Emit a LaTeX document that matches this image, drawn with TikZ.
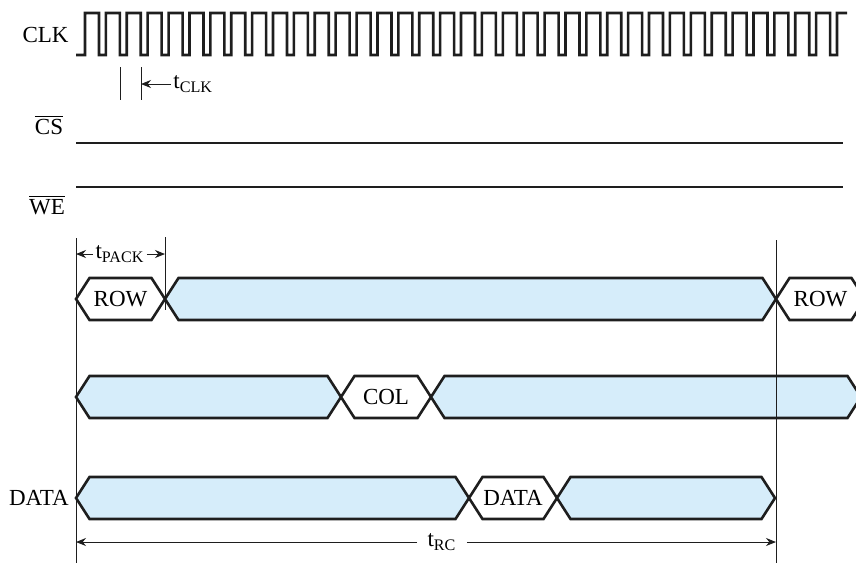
\documentclass[tikz,border=0pt]{standalone}
\usepackage{fontspec}
\setmainfont{Liberation Serif}
\definecolor{busBlue}{RGB}{214,237,250}
\definecolor{sigDark}{RGB}{30,30,30}
\usetikzlibrary{arrows.meta,positioning,calc}

\begin{document}
\begin{tikzpicture}[x=0.5pt, y=-0.5pt,
    sig/.style={draw=sigDark, line width=1.3pt, line join=miter},
    bus/.style={sig, fill=busBlue},
    idle/.style={sig, fill=white},
    marker/.style={draw=sigDark, line width=0.5pt},
    dim/.style={marker, -{Stealth[length=5pt, width=4pt]}},
    lbl/.style={font=\fontsize{11.5}{13}\selectfont, inner sep=1pt}
  ]
  \useasboundingbox (0,0) rectangle (856,563);

  % signal names
  \node[lbl, anchor=east] (clk) at (71,35) {CLK};
  \node[lbl] (cs) at (49,125) {$\overline{\mbox{CS}}$};
  \node[lbl] (we) at (47,205) {$\overline{\mbox{WE}}$};
  \node[lbl, anchor=east] (data) at (71,498) {DATA};

  % clock
  \draw[sig] (76,55) -- (85,55)
    \foreach \k in {0,...,35} {
      -- ({85+\k*20.89},13) -- ({99+\k*20.89},13)
      -- ({99+\k*20.89},55) -- ({85+(\k+1)*20.89},55)
    }
    -- (837,13) -- (847,13);

  % chip select and write enable
  \draw[sig] (76,143) -- (843,143);
  \draw[sig] (76,187) -- (843,187);

  % buses
  \foreach \xa/\xb/\yc/\kind/\txt [count=\i] in {
      76/165/299/idle/ROW, 165/776/299/bus/, 776/865/299/idle/ROW,
      76/341/397/bus/, 341/431/397/idle/COL, 431/861/397/bus/,
      76/469/498/bus/, 469/557/498/idle/DATA, 557/775/498/bus/} {
    \draw[\kind] (\xa,\yc) -- ({\xa+13.5},{\yc-21}) -- ({\xb-13.5},{\yc-21})
      -- (\xb,\yc) -- ({\xb-13.5},{\yc+21}) -- ({\xa+13.5},{\yc+21}) -- cycle;
    \node[lbl] (seg\i) at ({(\xa+\xb)/2},\yc) {\txt};
  }

  % timing markers
  \coordinate (clkA) at (120,67);
  \coordinate (clkB) at (141,67);
  \coordinate (start) at (76,238);
  \coordinate (pack) at (165,237);
  \coordinate (cycle) at (776,240);
  \draw[marker] (clkA) -- ++(0,33);
  \draw[marker] (clkB) -- ++(0,33);
  \draw[marker] (start) -- (76,563);
  \draw[marker] (pack) -- (165,310);
  \draw[marker] (cycle) -- (776,563);

  % timing labels
  \node[lbl, anchor=west] (tclk) at (171,84) {t\textsubscript{CLK}};
  \draw[dim] (tclk.west) -- (clkB |- tclk.west);
  \node[lbl] (tpack) at (120,254) {t\textsubscript{PACK}};
  \draw[dim] (tpack.west) -- (start |- tpack);
  \draw[dim] (tpack.east) -- (pack |- tpack);
  \node[lbl, inner xsep=5pt] (trc) at (442,542) {t\textsubscript{RC}};
  \draw[dim] (trc.west) -- (start |- trc);
  \draw[dim] (trc.east) -- (cycle |- trc);
\end{tikzpicture}
\end{document}
